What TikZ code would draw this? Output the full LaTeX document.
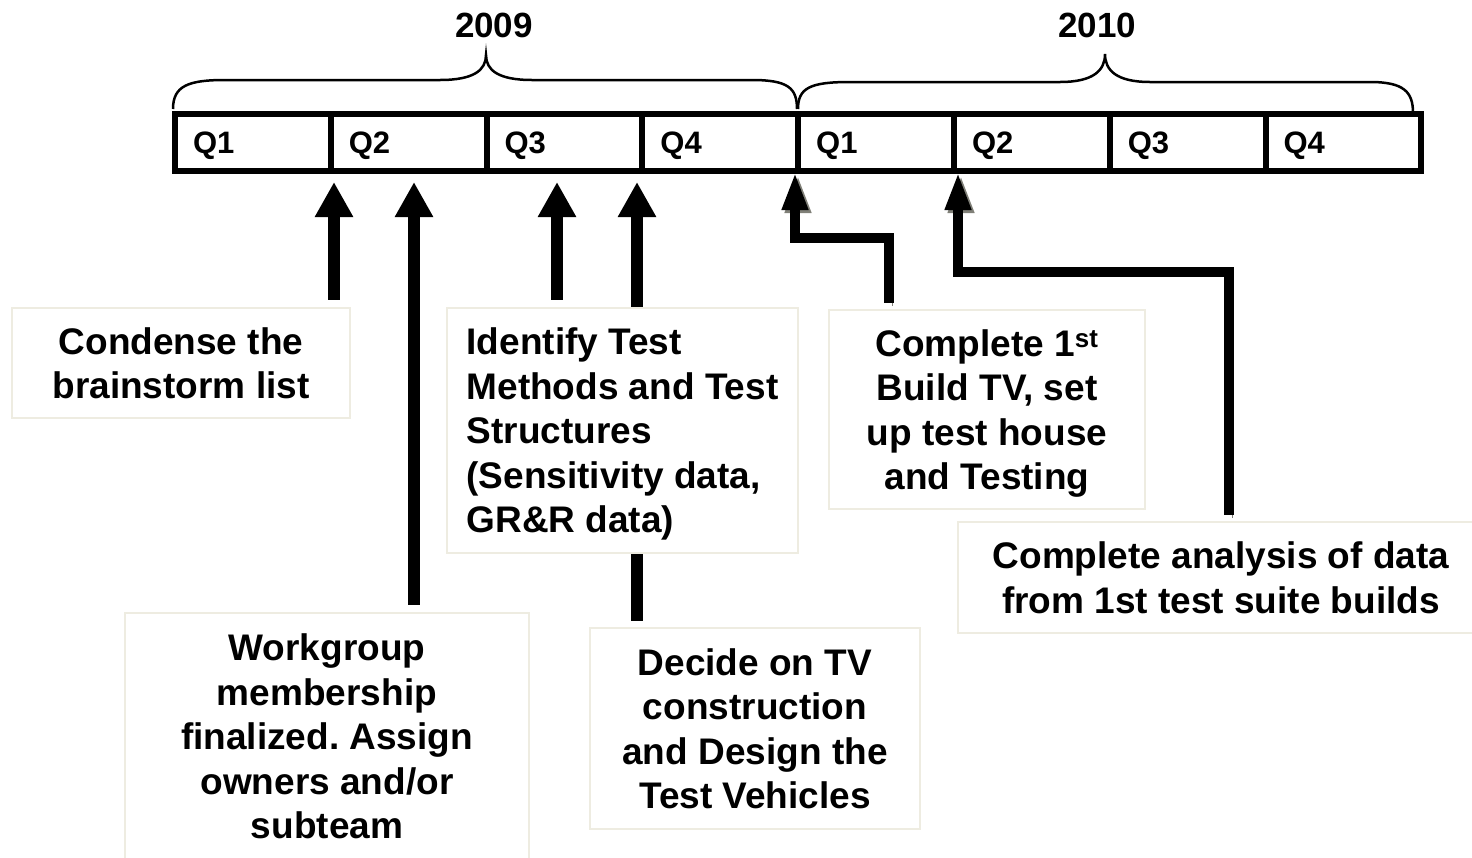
\documentclass[tikz,border=0pt]{standalone}
\usepackage{fontspec}
\setmainfont{Liberation Sans}
\usetikzlibrary{arrows.meta,backgrounds}
\frenchspacing

\definecolor{boxline}{HTML}{EEECE1}
\definecolor{shadowgray}{RGB}{128,128,120}

\tikzset{
  quarter/.style={draw, line width=6pt, minimum width=155.8pt, minimum height=57pt,
    inner xsep=18pt, text width=119.8pt, align=left, text height=22pt, text depth=0pt,
    font=\bfseries\fontsize{31}{36}\selectfont},
  year/.style={font=\bfseries\fontsize{35}{40}\selectfont},
  brace/.style={line width=2.5pt},
  note/.style={draw=boxline, fill=white, line width=2.5pt, inner sep=0pt, align=center,
    text depth=0pt, font=\bfseries\fontsize{37}{44.5}\selectfont},
  uparrow/.style={line width=12pt, -{Triangle[width=36pt,length=35pt]}},
  elbowarrow/.style={line width=10pt, -{Triangle[width=24pt,length=38pt]},
    preaction={draw=shadowgray, transform canvas={shift={(3pt,-3pt)}}}}
}

\begin{document}
\begin{tikzpicture}[x=1pt,y=-1pt]
\useasboundingbox (0,0) rectangle (1472,857);
%%%% Add the quarter cells of the time bar
    \foreach \i/\q in {1/Q1,2/Q2,3/Q3,4/Q4,5/Q1,6/Q2,7/Q3,8/Q4}
        \node[quarter] (q\i) at ({175+155.8*(\i-0.5)},142) {\q};
%%%% Add the year braces
    \draw[brace] (173,109) .. controls (173,86) and (188,80) .. (225,80) -- (440,80)
        .. controls (474,80) and (486,70) .. (486,55)
        .. controls (486,70) and (498,80) .. (532,80) -- (752,80)
        .. controls (788,80) and (797,88) .. (797,109);
    \draw[brace] (798,109) .. controls (798,88) and (810,82) .. (850,82) -- (1060,82)
        .. controls (1094,82) and (1105,70) .. (1105,54)
        .. controls (1105,70) and (1116,82) .. (1150,82) -- (1370,82)
        .. controls (1404,82) and (1413,92) .. (1413,113);
    \node[year] (y2009) at (494,25) {2009};
    \node[year] (y2010) at (1097,25) {2010};
%%%% Add the milestone boxes
    \node[note, minimum width=338pt, minimum height=110pt] (condense) at (181,363)
        {Condense the\\brainstorm list};
    \node[note, minimum width=351pt, minimum height=245pt, align=left]
        (identify) at (622.5,430.5)
        {Identify Test\\Methods and Test\\Structures\\(Sensitivity data,\\GR\&R data)};
    \node[note, minimum width=316pt, minimum height=199pt] (build) at (987,409.5)
        {Complete 1\textsuperscript{st}\\Build TV, set\\up test house\\and Testing};
    \node[note, minimum width=526pt, minimum height=111pt] (analysis) at (1221,577.5)
        {Complete analysis of data\\from 1st test suite builds};
    \node[note, minimum width=404pt, minimum height=247pt] (workgroup) at (327,736.5)
        {Workgroup\\membership\\finalized. Assign\\owners and/or\\subteam};
    \node[note, minimum width=330pt, minimum height=201pt] (decide) at (755,728.5)
        {Decide on TV\\construction\\and Design the\\Test Vehicles};
%%%% Add arrows from the boxes up to the bar
    \coordinate (ta) at (334,182);
    \coordinate (tb) at (414,182);
    \coordinate (tc) at (557,182);
    \coordinate (td) at (637,182);
    \coordinate (te) at (795,172);
    \coordinate (tf) at (958,172);
    \coordinate (e1) at (889,238);
    \coordinate (e2) at (1229,272);
    \begin{scope}[on background layer]
    \draw[uparrow, shorten <=7pt] (ta |- condense.north) -- (ta);
    \draw[uparrow, shorten <=7pt] (tb |- workgroup.north) -- (tb);
    \draw[uparrow, shorten <=7pt] (tc |- identify.north) -- (tc);
    \draw[uparrow, shorten <=6pt] (td |- decide.north) -- (td);
%%%% Add the bent arrows with their shadows
    \draw[elbowarrow, shorten <=6pt] (e1 |- build.north) -- (e1) -| (te);
    \draw[elbowarrow, shorten <=6pt] (e2 |- analysis.north) -- (e2) -| (tf);
    \end{scope}
\end{tikzpicture}
\end{document}
